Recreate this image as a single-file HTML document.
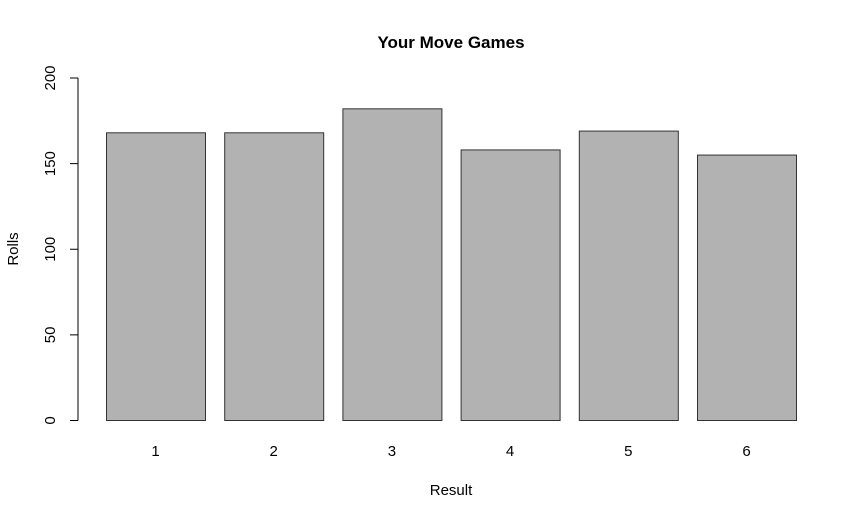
<!DOCTYPE html>
<html><head><meta charset="utf-8"><style>
body{margin:0;background:#fff}
svg text{font-family:"Liberation Sans",Arial,sans-serif;fill:#000}
</style></head><body>
<svg id="chart" width="864" height="518" xmlns="http://www.w3.org/2000/svg">
<text x="451" y="48" text-anchor="middle" font-size="17" font-weight="bold">Your Move Games</text>
<text x="451" y="495" text-anchor="middle" font-size="15">Result</text>
<text transform="translate(18,249) rotate(-90)" text-anchor="middle" font-size="15">Rolls</text>
<g id="yaxis"></g>
<g id="bars"></g>
<g id="xlabels"></g>
</svg>
<script>
const categories=["1","2","3","4","5","6"];
const values=[168,168,182,158,169,155];
const yTicks=[0,50,100,150,200];
const NS="http://www.w3.org/2000/svg";
const y0=420.5,pxPer=1.7125;
function yScale(v){return y0-v*pxPer;}
function xScale(i){return 106+i*118.2;}
const bw=99;
const ya=document.getElementById('yaxis');
function mk(t,a,p){const e=document.createElementNS(NS,t);for(const k in a)e.setAttribute(k,a[k]);p.appendChild(e);return e;}
const axl=mk('line',{x1:78,x2:78,y1:yScale(0),y2:yScale(200),stroke:'#000'},ya);


yTicks.forEach(t=>{
  const l=mk('line',{x1:70,x2:78,y1:yScale(t),y2:yScale(t),stroke:'#000'},ya);
  
  
  const tx=mk('text',{transform:`translate(55,${yScale(t)}) rotate(-90)`,'text-anchor':'middle','font-size':15},ya);
  tx.textContent=t;
  
  
});
const bg=document.getElementById('bars'),xl=document.getElementById('xlabels');
values.forEach((v,i)=>{
  const r=mk('rect',{x:xScale(i)+0.5,y:yScale(v),width:bw,height:yScale(0)-yScale(v),fill:'#b2b2b2',stroke:'#333','stroke-width':1},bg);
  
  
  const t=mk('text',{x:xScale(i)+bw/2,y:456,'text-anchor':'middle','font-size':15},xl);
  t.textContent=categories[i];
  
  
});
</script>
</body></html>
